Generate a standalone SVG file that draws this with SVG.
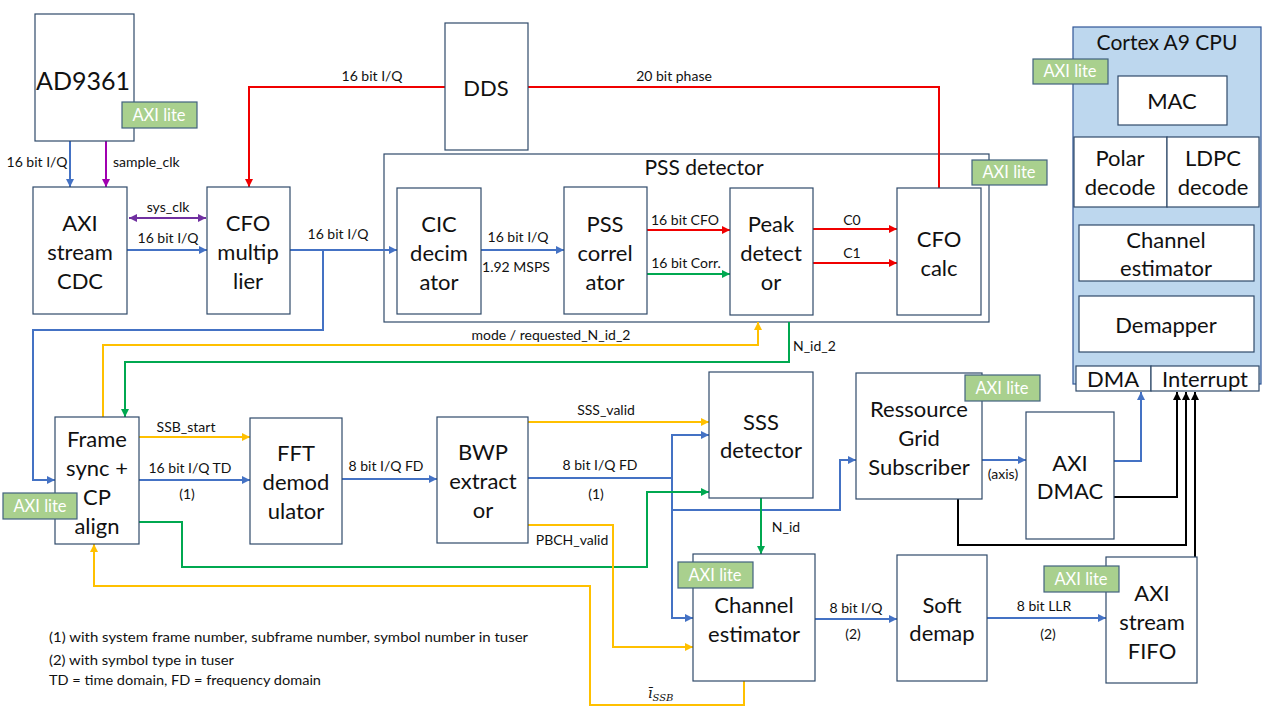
<svg xmlns="http://www.w3.org/2000/svg" width="1280" height="720" viewBox="0 0 1280 720">
<defs>
<style>
.n{fill:#fff;stroke:#2f4a6a;stroke-width:1.2}
.t{font-family:Lato,"Liberation Sans",sans-serif;font-size:22px;fill:#111;text-anchor:middle;dominant-baseline:central}
.l{font-family:Lato,"Liberation Sans",sans-serif;font-size:14px;fill:#111;text-anchor:middle;dominant-baseline:central}
.ls{text-anchor:start}
.ax rect{fill:#a9d08e;stroke:#41627f;stroke-width:1.2}
.ax text{font-family:Lato,"Liberation Sans",sans-serif;font-size:16.5px;fill:#fff;text-anchor:middle;dominant-baseline:central}
.w{fill:none;stroke-width:2}
.b{stroke:#4472c4}.r{stroke:#f00000}.g{stroke:#00a850}.y{stroke:#ffc000}.k{stroke:#000}.m{stroke:#a000b0}.p{stroke:#7030a0}
.fn{font-family:Lato,"Liberation Sans",sans-serif;font-size:14px;fill:#111;dominant-baseline:central}
</style>
<marker id="mb" viewBox="0 0 10 10" refX="10" refY="5" markerWidth="9" markerHeight="8" orient="auto" markerUnits="userSpaceOnUse"><path d="M0,0L10,5L0,10z" fill="#4472c4"/></marker>
<marker id="mr" viewBox="0 0 10 10" refX="10" refY="5" markerWidth="9" markerHeight="8" orient="auto" markerUnits="userSpaceOnUse"><path d="M0,0L10,5L0,10z" fill="#f00000"/></marker>
<marker id="mg" viewBox="0 0 10 10" refX="10" refY="5" markerWidth="9" markerHeight="8" orient="auto" markerUnits="userSpaceOnUse"><path d="M0,0L10,5L0,10z" fill="#00a850"/></marker>
<marker id="my" viewBox="0 0 10 10" refX="10" refY="5" markerWidth="9" markerHeight="8" orient="auto" markerUnits="userSpaceOnUse"><path d="M0,0L10,5L0,10z" fill="#ffc000"/></marker>
<marker id="mk" viewBox="0 0 10 10" refX="10" refY="5" markerWidth="9" markerHeight="8" orient="auto" markerUnits="userSpaceOnUse"><path d="M0,0L10,5L0,10z" fill="#000"/></marker>
<marker id="mm" viewBox="0 0 10 10" refX="10" refY="5" markerWidth="9" markerHeight="8" orient="auto" markerUnits="userSpaceOnUse"><path d="M0,0L10,5L0,10z" fill="#a000b0"/></marker>
<marker id="mp" viewBox="0 0 10 10" refX="10" refY="5" markerWidth="9" markerHeight="8" orient="auto-start-reverse" markerUnits="userSpaceOnUse"><path d="M0,0L10,5L0,10z" fill="#7030a0"/></marker>
</defs>
<rect width="1280" height="720" fill="#fff"/>

<g id="cpu">
<rect x="1073" y="27" width="188" height="357" fill="#bdd7ee" stroke="#2f5597" stroke-width="1.2"/>
<text class="t" x="1167" y="41" style="font-size:21px">Cortex A9 CPU</text>
<rect class="n" x="1118" y="76" width="109" height="49"/>
<text class="t" x="1172" y="100">MAC</text>
<rect class="n" x="1074" y="137" width="93" height="70"/>
<rect class="n" x="1167" y="137" width="92" height="70"/>
<text class="t" x="1120" y="157">Polar</text><text class="t" x="1120" y="186">decode</text>
<text class="t" x="1213" y="157">LDPC</text><text class="t" x="1213" y="186">decode</text>
<rect class="n" x="1079" y="225" width="175" height="56"/>
<text class="t" x="1166" y="239">Channel</text><text class="t" x="1166" y="267">estimator</text>
<rect class="n" x="1079" y="296" width="175" height="56"/>
<text class="t" x="1166" y="324">Demapper</text>
<rect class="n" x="1076" y="366" width="75" height="25"/>
<rect class="n" x="1151" y="366" width="108" height="25"/>
<text class="t" x="1113" y="378">DMA</text><text class="t" x="1205" y="378">Interrupt</text>
</g>
<g id="cpu-axi" class="ax"><rect x="1033" y="59" width="75" height="25"/><text x="1070" y="71">AXI lite</text></g>

<g id="pss">
<rect class="n" x="384" y="154" width="605" height="168"/>
<text class="t" x="704" y="166" style="font-size:21px">PSS detector</text>
</g>
<g id="pss-axi" class="ax"><rect x="972" y="160" width="75" height="25"/><text x="1009" y="172">AXI lite</text></g>

<g id="connectors">
<path class="w b" d="M70,141V187" marker-end="url(#mb)"/>
<path class="w m" d="M106,141V187" marker-end="url(#mm)"/>
<path class="w p" d="M129,218H206" marker-start="url(#mp)" marker-end="url(#mp)"/>
<path class="w b" d="M127,250H207" marker-end="url(#mb)"/>
<path class="w b" d="M290,250H397" marker-end="url(#mb)"/>
<path class="w b" d="M323,250V330H33V480H55" marker-end="url(#mb)"/>
<path class="w r" d="M445,87H249V187" marker-end="url(#mr)"/>
<path class="w r" d="M528,87H939V188"/>
<path class="w b" d="M481,250H564" marker-end="url(#mb)"/>
<path class="w r" d="M647,230H730" marker-end="url(#mr)"/>
<path class="w g" d="M647,274H730" marker-end="url(#mg)"/>
<path class="w r" d="M813,229H897" marker-end="url(#mr)"/>
<path class="w r" d="M813,263H897" marker-end="url(#mr)"/>
<path class="w y" d="M103,417V345H758V322" marker-end="url(#my)"/>
<path class="w g" d="M789,322V362H125V417" marker-end="url(#mg)"/>
<path class="w y" d="M139,437H250" marker-end="url(#my)"/>
<path class="w b" d="M139,480H250" marker-end="url(#mb)"/>
<path class="w b" d="M342,479H437" marker-end="url(#mb)"/>
<path class="w y" d="M528,422H709" marker-end="url(#my)"/>
<path class="w b" d="M528,478H672"/>
<path class="w b" d="M672,478V435H709" marker-end="url(#mb)"/>
<path class="w b" d="M672,478V618H693" marker-end="url(#mb)"/>
<path class="w b" d="M672,510H840V460H856" marker-end="url(#mb)"/>
<path class="w g" d="M139,522H182V567H647V492H709" marker-end="url(#mg)"/>
<path class="w y" d="M528,525H613V647H693" marker-end="url(#my)"/>
<path class="w y" d="M744,681V705H590V586H94V544" marker-end="url(#my)"/>
<path class="w g" d="M761,498V554" marker-end="url(#mg)"/>
<path class="w b" d="M982,460H1026" marker-end="url(#mb)"/>
<path class="w b" d="M1114,461H1141V392" marker-end="url(#mb)"/>
<path class="w k" d="M1114,497H1177V392" marker-end="url(#mk)"/>
<path class="w k" d="M958,499V545H1186V392" marker-end="url(#mk)"/>
<path class="w k" d="M1195,557V392" marker-end="url(#mk)"/>
<path class="w b" d="M815,619H897" marker-end="url(#mb)"/>
<path class="w b" d="M987,618H1106" marker-end="url(#mb)"/>
</g>

<g id="labels">
<text class="l" x="37" y="161">16 bit I/Q</text>
<text class="l ls" x="113" y="161">sample_clk</text>
<text class="l" x="168" y="206">sys_clk</text>
<text class="l" x="168" y="237">16 bit I/Q</text>
<text class="l" x="338" y="233">16 bit I/Q</text>
<text class="l" x="372" y="75">16 bit I/Q</text>
<text class="l" x="674" y="75">20 bit phase</text>
<text class="l" x="518" y="236">16 bit I/Q</text>
<text class="l" x="516" y="266">1.92 MSPS</text>
<text class="l" x="685" y="219">16 bit CFO</text>
<text class="l" x="686" y="262">16 bit Corr.</text>
<text class="l" x="852" y="219">C0</text>
<text class="l" x="852" y="252">C1</text>
<text class="l" x="551" y="334">mode / requested_N_id_2</text>
<text class="l ls" x="793" y="345">N_id_2</text>
<text class="l" x="186" y="426">SSB_start</text>
<text class="l" x="190" y="467">16 bit I/Q TD</text>
<text class="l" x="187" y="493">(1)</text>
<text class="l" x="386" y="465">8 bit I/Q FD</text>
<text class="l" x="606" y="409">SSS_valid</text>
<text class="l" x="600" y="464">8 bit I/Q FD</text>
<text class="l" x="596" y="493">(1)</text>
<text class="l" x="572" y="539">PBCH_valid</text>
<text class="l" x="786" y="526">N_id</text>
<text class="l" x="1003" y="473">(axis)</text>
<text class="l" x="856" y="607">8 bit I/Q</text>
<text class="l" x="853" y="633">(2)</text>
<text class="l" x="1044" y="605">8 bit LLR</text>
<text class="l" x="1048" y="633">(2)</text>
<text x="648" y="698" style="font-family:'DejaVu Serif',serif;font-size:14px;font-style:italic;fill:#111">ī<tspan font-size="10" dy="3">SSB</tspan></text>
</g>

<g id="ad9361"><rect class="n" x="35" y="14" width="99" height="127"/><text class="t" x="83" y="80" style="font-size:25px">AD9361</text></g>
<g id="ad9361-axi" class="ax"><rect x="122" y="102" width="75" height="26"/><text x="159" y="115">AXI lite</text></g>
<g id="cdc"><rect class="n" x="33" y="187" width="94" height="127"/><text class="t" x="80" y="222">AXI</text><text class="t" x="80" y="251">stream</text><text class="t" x="80" y="280">CDC</text></g>
<g id="cfo-mult"><rect class="n" x="207" y="187" width="83" height="127"/><text class="t" x="248" y="222">CFO</text><text class="t" x="248" y="251">multip</text><text class="t" x="248" y="280">lier</text></g>
<g id="dds"><rect class="n" x="445" y="23" width="83" height="127"/><text class="t" x="486" y="87">DDS</text></g>
<g id="cic"><rect class="n" x="397" y="188" width="84" height="126"/><text class="t" x="439" y="223">CIC</text><text class="t" x="439" y="252">decim</text><text class="t" x="439" y="281">ator</text></g>
<g id="pss-corr"><rect class="n" x="564" y="187" width="83" height="127"/><text class="t" x="605" y="223">PSS</text><text class="t" x="605" y="252">correl</text><text class="t" x="605" y="281">ator</text></g>
<g id="peak"><rect class="n" x="730" y="188" width="83" height="127"/><text class="t" x="771" y="223">Peak</text><text class="t" x="771" y="252">detect</text><text class="t" x="771" y="281">or</text></g>
<g id="cfo-calc"><rect class="n" x="897" y="188" width="84" height="127"/><text class="t" x="939" y="238">CFO</text><text class="t" x="939" y="267">calc</text></g>
<g id="frame-sync"><rect class="n" x="55" y="417" width="84" height="127"/><text class="t" x="97" y="438">Frame</text><text class="t" x="97" y="467">sync +</text><text class="t" x="97" y="496">CP</text><text class="t" x="97" y="525">align</text></g>
<g id="frame-axi" class="ax"><rect x="3" y="493" width="74" height="26"/><text x="40" y="506">AXI lite</text></g>
<g id="fft"><rect class="n" x="250" y="418" width="92" height="126"/><text class="t" x="296" y="452">FFT</text><text class="t" x="296" y="481">demod</text><text class="t" x="296" y="510">ulator</text></g>
<g id="bwp"><rect class="n" x="437" y="417" width="91" height="126"/><text class="t" x="483" y="451">BWP</text><text class="t" x="483" y="480">extract</text><text class="t" x="483" y="509">or</text></g>
<g id="sss"><rect class="n" x="709" y="372" width="104" height="126"/><text class="t" x="761" y="421">SSS</text><text class="t" x="761" y="449">detector</text></g>
<g id="rgs"><rect class="n" x="856" y="373" width="126" height="126"/><text class="t" x="919" y="408">Ressource</text><text class="t" x="919" y="437">Grid</text><text class="t" x="919" y="466">Subscriber</text></g>
<g id="rgs-axi" class="ax"><rect x="965" y="375" width="75" height="26"/><text x="1002" y="388">AXI lite</text></g>
<g id="dmac"><rect class="n" x="1026" y="412" width="88" height="127"/><text class="t" x="1070" y="462">AXI</text><text class="t" x="1070" y="490">DMAC</text></g>
<g id="chan-est"><rect class="n" x="693" y="554" width="122" height="127"/><text class="t" x="754" y="604">Channel</text><text class="t" x="754" y="633">estimator</text></g>
<g id="chan-axi" class="ax"><rect x="678" y="562" width="75" height="26"/><text x="715" y="575">AXI lite</text></g>
<g id="soft-demap"><rect class="n" x="897" y="555" width="90" height="126"/><text class="t" x="942" y="604">Soft</text><text class="t" x="942" y="632">demap</text></g>
<g id="fifo"><rect class="n" x="1106" y="557" width="91" height="126"/><text class="t" x="1152" y="592">AXI</text><text class="t" x="1152" y="621">stream</text><text class="t" x="1152" y="650">FIFO</text></g>
<g id="fifo-axi" class="ax"><rect x="1044" y="566" width="75" height="26"/><text x="1081" y="579">AXI lite</text></g>

<g id="notes">
<text class="fn" x="49" y="636" textLength="479" lengthAdjust="spacingAndGlyphs">(1) with system frame number, subframe number, symbol number in tuser</text>
<text class="fn" x="49" y="659" textLength="185" lengthAdjust="spacingAndGlyphs">(2) with symbol type in tuser</text>
<text class="fn" x="49" y="679" textLength="272" lengthAdjust="spacingAndGlyphs">TD = time domain, FD = frequency domain</text>
</g>
</svg>
